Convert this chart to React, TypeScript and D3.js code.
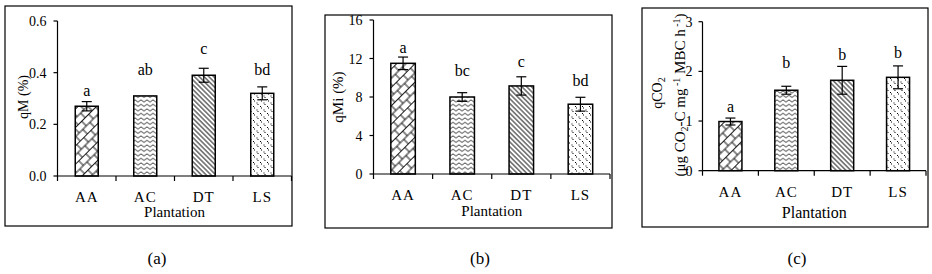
import React from "react";
import * as d3 from "d3";

// ---------- data ----------
const categories = ["AA", "AC", "DT", "LS"];

const qMValues = [0.27, 0.31, 0.39, 0.32];
const qMErrors = [0.018, 0, 0.027, 0.025];
const qMLetters = ["a", "ab", "c", "bd"];
const qMLetterAt = [0.33, 0.41, 0.49, 0.41];
const qMTicks = [0, 0.2, 0.4, 0.6];

const qMiValues = [11.5, 8.0, 9.15, 7.25];
const qMiErrors = [0.65, 0.45, 0.95, 0.72];
const qMiLetters = ["a", "bc", "c", "bd"];
const qMiLetterAt = [13.06, 10.7, 11.67, 9.69];
const qMiTicks = [0, 4, 8, 12, 16];

const qCO2Values = [0.99, 1.62, 1.82, 1.88];
const qCO2Errors = [0.07, 0.08, 0.28, 0.23];
const qCO2Letters = ["a", "b", "b", "b"];
const qCO2LetterAt = [1.29, 2.16, 2.33, 2.36];
const qCO2Ticks = [0, 1, 2, 3];

const patterns = ["pAA", "pAC", "pDT", "pLS"];
const FONT = "'Liberation Serif', 'Times New Roman', serif";

type PanelProps = {
  frame: [number, number, number, number];
  axisX: number;
  axisRight: number;
  yTop: number;
  yBottom: number;
  ticks: number[];
  fmt: (v: number) => string;
  values: number[];
  errors: number[];
  letters: string[];
  letterAt: number[];
  barWidth: number;
  catY: number;
  plantY: number;
  plantSize: number;
  caption: string;
  captionX: number;
  tickGap: number;
  children?: React.ReactNode;
};

function Panel(p: PanelProps) {
  const y = d3
    .scaleLinear()
    .domain([p.ticks[0], p.ticks[p.ticks.length - 1]])
    .range([p.yBottom, p.yTop]);
  const x = d3.scaleBand().domain(categories).range([p.axisX, p.axisRight]).padding(0);
  const bw = x.bandwidth();
  const [fx0, fy0, fx1, fy1] = p.frame;
  return (
    <g>
      <rect x={fx0} y={fy0} width={fx1 - fx0} height={fy1 - fy0} fill="none" stroke="#000" strokeWidth={1.2} />
      {p.values.map((v, i) => {
        const cx = (x(categories[i]) as number) + bw / 2;
        return (
          <rect
            key={"b" + i}
            x={cx - p.barWidth / 2}
            y={y(v)}
            width={p.barWidth}
            height={y(0) - y(v)}
            fill={`url(#${patterns[i]})`}
            stroke="#000"
            strokeWidth={1.5}
          />
        );
      })}
      {p.values.map((v, i) => {
        const cx = (x(categories[i]) as number) + bw / 2;
        const e = p.errors[i];
        if (e <= 0) return null;
        const y1 = y(v + e);
        const y2 = y(v - e);
        return (
          <g key={"e" + i} stroke="#000" strokeWidth={1.2}>
            <line x1={cx} x2={cx} y1={y1} y2={y2} />
            <line x1={cx - 5} x2={cx + 5} y1={y1} y2={y1} />
            <line x1={cx - 5} x2={cx + 5} y1={y2} y2={y2} />
          </g>
        );
      })}
      {p.letters.map((l, i) => {
        const cx = (x(categories[i]) as number) + bw / 2;
        return (
          <text key={"l" + i} x={cx} y={y(p.letterAt[i]) + 5} textAnchor="middle" fontSize={16} fontFamily={FONT}>
            {l}
          </text>
        );
      })}
      <line x1={p.axisX} x2={p.axisX} y1={p.yTop} y2={p.yBottom} stroke="#000" strokeWidth={1.2} />
      {p.ticks.map((t) => (
        <g key={"t" + t}>
          <line x1={p.axisX - 4} x2={p.axisX} y1={y(t)} y2={y(t)} stroke="#000" strokeWidth={1.2} />
          <text x={p.axisX - 4 - p.tickGap} y={y(t) + 5} textAnchor="end" fontSize={14} fontFamily={FONT}>
            {p.fmt(t)}
          </text>
        </g>
      ))}
      <line x1={p.axisX} x2={p.axisRight} y1={p.yBottom} y2={p.yBottom} stroke="#000" strokeWidth={1.2} />
      {d3.range(categories.length + 1).map((i) => (
        <line
          key={"xt" + i}
          x1={p.axisX + i * bw}
          x2={p.axisX + i * bw}
          y1={p.yBottom}
          y2={p.yBottom + 5}
          stroke="#000"
          strokeWidth={1.2}
        />
      ))}
      {categories.map((c) => (
        <text
          key={"c" + c}
          x={(x(c) as number) + bw / 2}
          y={p.catY}
          textAnchor="middle"
          fontSize={15}
          letterSpacing={1}
          fontFamily={FONT}
        >
          {c}
        </text>
      ))}
      <text x={(p.axisX + p.axisRight) / 2} y={p.plantY} textAnchor="middle" fontSize={p.plantSize} fontFamily={FONT}>
        Plantation
      </text>
      {p.children}
      <text x={p.captionX} y={264} textAnchor="middle" fontSize={17} fontFamily={FONT}>
        {p.caption}
      </text>
    </g>
  );
}

export default function App() {
  return (
    <svg
      width={932}
      height={274}
      style={{ position: "absolute", left: 0, top: 0, background: "#fff" }}
      fontFamily={FONT}
    >
      <defs>
        <pattern id="pAA" width={10} height={13} patternUnits="userSpaceOnUse" patternTransform="rotate(-45)">
          <rect width={10} height={13} fill="#fff" />
          <path d="M0,0.5 H10 M0,7 H10 M2,0.5 V7 M7,7 V13.5" stroke="#000" strokeWidth={0.9} fill="none" />
        </pattern>
        <pattern id="pAC" width={6} height={4.5} patternUnits="userSpaceOnUse">
          <rect width={6} height={4.5} fill="#fff" />
          <path d="M0,3 L3,0.8 L6,3" stroke="#000" strokeWidth={0.8} fill="none" />
        </pattern>
        <pattern id="pDT" width={3.4} height={3.4} patternUnits="userSpaceOnUse" patternTransform="rotate(45)">
          <rect width={3.4} height={3.4} fill="#fff" />
          <line x1={0} x2={3.4} y1={1.7} y2={1.7} stroke="#000" strokeWidth={0.9} />
        </pattern>
        <pattern id="pLS" width={7} height={7} patternUnits="userSpaceOnUse">
          <rect width={7} height={7} fill="#fff" />
          <rect x={1} y={1} width={1} height={1} fill="#000" />
          <rect x={2} y={2.5} width={1} height={1} fill="#000" />
          <rect x={4.5} y={4.5} width={1} height={1} fill="#000" />
          <rect x={5.5} y={6} width={1} height={1} fill="#000" />
        </pattern>
      </defs>

      <Panel
        frame={[5, 6, 292, 226]}
        axisX={57.5}
        axisRight={291.5}
        yTop={21}
        yBottom={176}
        ticks={qMTicks}
        fmt={d3.format(".1f")}
        values={qMValues}
        errors={qMErrors}
        letters={qMLetters}
        letterAt={qMLetterAt}
        barWidth={23}
        catY={202}
        plantY={217}
        plantSize={15}
        caption="(a)"
        captionX={157}
        tickGap={7}
      >
        <text transform="translate(28,97) rotate(-90)" textAnchor="middle" fontSize={14} fontFamily={FONT}>
          qM (%)
        </text>
      </Panel>

      <Panel
        frame={[325, 15, 612, 228]}
        axisX={373.5}
        axisRight={610}
        yTop={20}
        yBottom={174}
        ticks={qMiTicks}
        fmt={d3.format("d")}
        values={qMiValues}
        errors={qMiErrors}
        letters={qMiLetters}
        letterAt={qMiLetterAt}
        barWidth={24.5}
        catY={200}
        plantY={216}
        plantSize={15}
        caption="(b)"
        captionX={480}
        tickGap={7}
      >
        <text transform="translate(343,97) rotate(-90)" textAnchor="middle" fontSize={15} fontFamily={FONT}>
          qMi (%)
        </text>
      </Panel>

      <Panel
        frame={[642, 8, 928, 227]}
        axisX={702.5}
        axisRight={926}
        yTop={21.7}
        yBottom={170.7}
        ticks={qCO2Ticks}
        fmt={d3.format("d")}
        values={qCO2Values}
        errors={qCO2Errors}
        letters={qCO2Letters}
        letterAt={qCO2LetterAt}
        barWidth={23}
        catY={197}
        plantY={218}
        plantSize={16}
        caption="(c)"
        captionX={797}
        tickGap={6}
      >
        <text transform="translate(662,93) rotate(-90)" textAnchor="middle" fontSize={14} fontFamily={FONT}>
          qCO<tspan fontSize={10} dy={3}>2</tspan>
        </text>
        <text transform="translate(685,95) rotate(-90)" textAnchor="middle" fontSize={15} fontFamily={FONT}>
          (μg CO<tspan fontSize={10} dy={3}>2</tspan>
          <tspan dy={-3}>-C mg</tspan>
          <tspan fontSize={10} dy={-5}> -1</tspan>
          <tspan dy={5}> MBC h</tspan>
          <tspan fontSize={10} dy={-5}> -1</tspan>
          <tspan dy={5}>)</tspan>
        </text>
      </Panel>
    </svg>
  );
}
